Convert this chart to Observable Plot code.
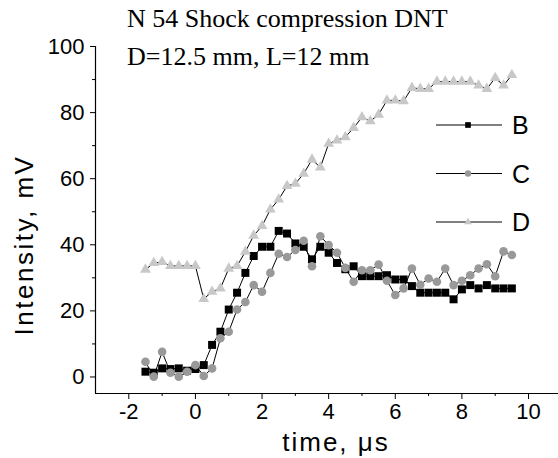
<!DOCTYPE html>
<html><head><meta charset="utf-8">
<script src="https://cdn.jsdelivr.net/npm/d3@7"></script>
<script src="https://cdn.jsdelivr.net/npm/@observablehq/plot@0.6"></script>
<style>
body{margin:0;background:#fff;}
#chart{width:558px;height:458px;}
</style></head><body><div id="chart"></div>
<script>
const titleLines = ["N 54 Shock compression DNT", "D=12.5 mm, L=12 mm"];
const xLabel = "time, \u03bcs";
const yLabel = "Intensity, mV";
const xTicks = [-2, 0, 2, 4, 6, 8, 10];
const xMinor = [-1, 1, 3, 5, 7, 9];
const yTicks = [0, 20, 40, 60, 80, 100];
const yMinor = [10, 30, 50, 70, 90];
const seriesNames = ["B", "C", "D"];

const time = [-1.5, -1.25, -1, -0.75, -0.5, -0.25, 0, 0.25, 0.5, 0.75, 1, 1.25, 1.5, 1.75, 2,
  2.25, 2.5, 2.75, 3, 3.25, 3.5, 3.75, 4, 4.25, 4.5, 4.75, 5, 5.25, 5.5, 5.75, 6,
  6.25, 6.5, 6.75, 7, 7.25, 7.5, 7.75, 8, 8.25, 8.5, 8.75, 9, 9.25, 9.5];

const seriesB = [1.6, 1.3, 2.6, 2.4, 2.6, 1.9, 2.4, 3.6, 9.7, 13.7, 20.4, 25.5, 31.5, 36.6, 39.4,
  39.4, 44.2, 43.4, 40.4, 39.4, 35.6, 39.4, 37.6, 34.5, 32.6, 33.5, 30.5, 30.5, 30.5, 30.8, 29.5,
  29.5, 27.5, 25.5, 25.5, 25.5, 25.5, 23.5, 26.5, 27.8, 26.8, 27.8, 26.8, 26.8, 26.8];

const seriesC = [4.6, 0.1, 7.6, 1.3, 0.1, 1.6, 3.6, 0.3, 2.6, 11.7, 13.7, 20.4, 22.7, 27.8, 25.8,
  31.5, 37.3, 36.3, 38.4, 41.2, 33.5, 42.6, 39.9, 37.6, 33.0, 28.8, 32.3, 32.3, 34.0, 29.1, 24.8,
  26.8, 32.8, 27.9, 29.8, 28.8, 32.8, 27.8, 29.1, 30.8, 32.8, 34.1, 30.5, 38.0, 36.9];

const seriesD = [32.5, 34.5, 34.8, 33.6, 33.6, 33.6, 33.6, 23.6, 25.8, 26.8, 32.8, 33.6, 37.9, 42.8, 45.7,
  50.7, 53.7, 57.8, 58.5, 61.5, 65.8, 63.4, 70.6, 71.6, 72.6, 75.4, 78.6, 77.4, 79.4, 83.7, 83.7,
  83.5, 87.5, 87.2, 87.2, 89.4, 89.4, 89.4, 89.4, 89.4, 88.2, 87.2, 90.5, 88.2, 91.4];

const valuesBySeries = {B: seriesB, C: seriesC, D: seriesD};
const styleBySeries = {
  B: {symbol: "square", r: 4.5, fill: "#000000", lr: 3.2},
  C: {symbol: "circle", r: 4.3, fill: "#999999", lr: 3.2},
  D: {symbol: "triangle", r: 4.0, fill: "#c8c8c8", lr: 2.8}
};

const rows = seriesNames.flatMap(s => time.map((t, i) => ({s, t, v: valuesBySeries[s][i]})));

const xDomain = [-3, 10.9];
const yDomain = [-5, 100];
const fmt = d => String(d);

const marks = [
  Plot.ruleY([yDomain[0]], {stroke: "black", strokeWidth: 1.2}),
  Plot.ruleX([xDomain[0]], {stroke: "black", strokeWidth: 1.2}),
  Plot.axisX(xTicks, {tickSize: 6, tickPadding: 4, fontSize: 22, tickFormat: fmt, label: null}),
  Plot.axisX(xMinor, {tickSize: 3, tickFormat: () => "", label: null}),
  Plot.axisY(yTicks, {tickSize: 5, tickPadding: 6, fontSize: 22, tickFormat: fmt, label: null}),
  Plot.axisY(yMinor, {tickSize: 3, tickFormat: () => "", label: null})
];
for (const s of seriesNames) {
  const data = rows.filter(d => d.s === s);
  const st = styleBySeries[s];
  marks.push(Plot.line(data, {x: "t", y: "v", stroke: "black", strokeWidth: 1}));
  marks.push(Plot.dot(data, {x: "t", y: "v", symbol: st.symbol, r: st.r, fill: st.fill, stroke: "none"}));
}

const plot = Plot.plot({
  width: 558, height: 458,
  marginLeft: 95, marginRight: 0, marginTop: 46, marginBottom: 65,
  x: {domain: xDomain, label: null},
  y: {domain: yDomain, label: null},
  style: {fontFamily: "'Liberation Sans', Arial, sans-serif", background: "white", color: "black"},
  marks
});
document.getElementById("chart").appendChild(plot);

const svg = d3.select(plot);
const serif = "'Liberation Serif', 'Times New Roman', serif";
const sans = "'Liberation Sans', Arial, sans-serif";
titleLines.forEach((line, i) => {
  svg.append("text").attr("x", 127).attr("y", 27 + i * 38).attr("text-anchor", "start")
    .attr("font-family", serif).attr("font-size", 26).attr("fill", "black").text(line);
});
svg.append("text").attr("x", 336).attr("y", 451).attr("text-anchor", "middle")
  .attr("font-family", sans).attr("font-size", 26).attr("letter-spacing", 2)
  .attr("fill", "black").text(xLabel);
svg.append("text").attr("transform", "translate(33,245) rotate(-90)").attr("text-anchor", "middle")
  .attr("font-family", sans).attr("font-size", 26).attr("letter-spacing", 2.5)
  .attr("fill", "black").text(yLabel);

const symbolMap = {square: d3.symbolSquare, circle: d3.symbolCircle, triangle: d3.symbolTriangle};
seriesNames.forEach((s, i) => {
  const st = styleBySeries[s];
  const y = 125 + i * 48.5;
  const g = svg.append("g");
  g.append("line").attr("x1", 436).attr("x2", 502).attr("y1", y).attr("y2", y)
    .attr("stroke", "black").attr("stroke-width", 1);
  g.append("path").attr("transform", `translate(468,${y})`)
    .attr("d", d3.symbol(symbolMap[st.symbol], Math.PI * st.lr * st.lr)())
    .attr("fill", st.fill);
  g.append("text").attr("x", 512).attr("y", y).attr("dy", "0.36em").attr("text-anchor", "start")
    .attr("font-family", sans).attr("font-size", 25).attr("fill", "black").text(s);
});
</script>
</body></html>
